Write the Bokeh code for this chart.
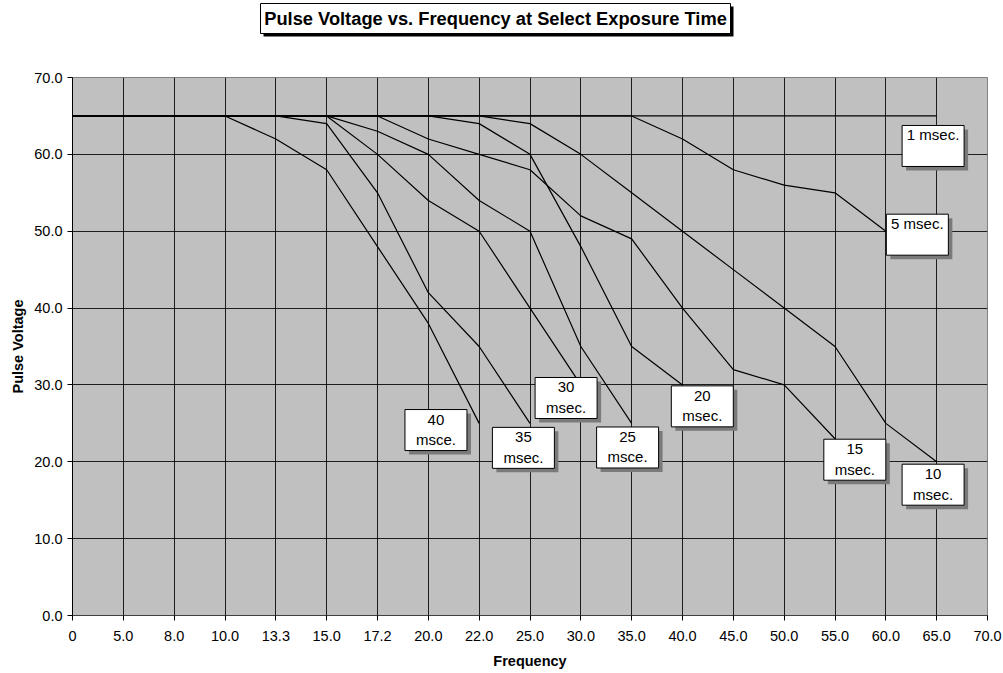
from bokeh.plotting import figure
from bokeh.layouts import column
from bokeh.models import FixedTicker, PrintfTickFormatter, ColumnDataSource, Range1d
from bokeh.core.properties import value
from bokeh.embed import file_html
from bokeh.resources import INLINE

# ---- data ----
categories = ["0", "5.0", "8.0", "10.0", "13.3", "15.0", "17.2", "20.0", "22.0", "25.0",
              "30.0", "35.0", "40.0", "45.0", "50.0", "55.0", "60.0", "65.0", "70.0"]
y_ticks = [0, 10, 20, 30, 40, 50, 60, 70]

ms1 = [65, 65, 65, 65, 65, 65, 65, 65, 65, 65, 65, 65, 65, 65, 65, 65, 65, 65]
ms5 = [65, 65, 65, 65, 65, 65, 65, 65, 65, 65, 65, 65, 62, 58, 56, 55, 50]
ms10 = [65, 65, 65, 65, 65, 65, 65, 65, 65, 64, 60, 55, 50, 45, 40, 35, 25, 20]
ms15 = [65, 65, 65, 65, 65, 65, 65, 62, 60, 58, 52, 49, 40, 32, 30, 23]
ms20 = [65, 65, 65, 65, 65, 65, 65, 65, 64, 60, 48, 35, 30]
ms25 = [65, 65, 65, 65, 65, 65, 63, 60, 54, 50, 35, 25]
ms30 = [65, 65, 65, 65, 65, 65, 60, 54, 50, 40, 30]
ms35 = [65, 65, 65, 65, 65, 64, 55, 42, 35, 25]
ms40 = [65, 65, 65, 65, 62, 58, 48, 38, 25]

series = [ms1, ms5, ms10, ms15, ms20, ms25, ms30, ms35, ms40]
series_labels = ["1 msec.", "5 msec.", "10\nmsec.", "15\nmsec.", "20\nmsec.",
                 "25\nmsce.", "30\nmsec.", "35\nmsec.", "40\nmsce."]

# label box centres (data coordinates)
label_x = [16.93, 16.62, 16.93, 15.39, 12.39, 10.92, 9.71, 8.87, 7.15]
label_y = [61.09, 49.55, 17.02, 20.27, 27.21, 21.86, 28.30, 21.81, 24.13]

FONT = value("Liberation Sans")
TITLE = "Pulse Voltage vs. Frequency at Select Exposure Time"

LEFT, RIGHT, TOP_STRIP = 72, 16, 60

# ---- title strip (pixel-like coordinates, y downward) ----
t = figure(width=1003, height=TOP_STRIP, output_backend="svg", toolbar_location=None,
           x_range=Range1d(LEFT, 1003 - RIGHT), y_range=Range1d(TOP_STRIP, 0),
           x_axis_type=None, y_axis_type=None,
           min_border_left=LEFT, min_border_right=RIGHT, min_border_top=0, min_border_bottom=0)
t.outline_line_color = None
t.background_fill_color = "white"
t.border_fill_color = "white"
t.grid.visible = False
t.rect(x=[498], y=[21], width=470, height=30, fill_color="black", line_color=None)
t.rect(x=[495], y=[18], width=470, height=30, fill_color="white", line_color="black",
       line_width=1)
t.text(x=[495], y=[18], text=[TITLE], text_align="center", text_baseline="middle",
       text_font=FONT, text_font_size="18.3px", text_font_style="bold", text_color="black")

# ---- main chart ----
p = figure(width=1003, height=673 - TOP_STRIP, output_backend="svg", toolbar_location=None,
           x_range=(0, len(categories) - 1), y_range=(0, 70),
           min_border_left=LEFT, min_border_right=RIGHT, min_border_top=77 - TOP_STRIP,
           min_border_bottom=58)
p.background_fill_color = "#C0C0C0"
p.border_fill_color = "white"
p.outline_line_color = "#808080"

# axes
p.xaxis.ticker = FixedTicker(ticks=list(range(len(categories))))
p.xaxis.major_label_overrides = {i: c for i, c in enumerate(categories)}
p.yaxis.ticker = FixedTicker(ticks=y_ticks)
p.yaxis.formatter = PrintfTickFormatter(format="%.1f")
for ax in (p.xaxis, p.yaxis):
    ax.major_tick_in = 0
    ax.major_tick_out = 5
    ax.minor_tick_line_color = None
    ax.major_tick_line_color = "black"
    ax.axis_line_color = "black"
    ax.major_label_text_font = "Liberation Sans"
    ax.major_label_text_font_size = "14.5px"
    ax.major_label_text_color = "black"
    ax.axis_label_text_font = "Liberation Sans"
    ax.axis_label_text_font_size = "14.5px"
    ax.axis_label_text_font_style = "bold"
    ax.axis_label_text_color = "black"
p.xaxis.major_label_standoff = 10
p.xaxis.axis_label_standoff = 9
p.yaxis.major_label_standoff = 5
p.yaxis.axis_label_standoff = 5
p.xaxis.axis_line_color = "#404040"
p.xaxis.axis_label = "Frequency"
p.yaxis.axis_label = "Pulse Voltage"

p.xgrid.ticker = FixedTicker(ticks=list(range(len(categories))))
p.ygrid.ticker = FixedTicker(ticks=y_ticks)
p.grid.grid_line_color = "black"
p.grid.grid_line_alpha = 0.85
p.grid.grid_line_width = 1

# lines
for vals in series:
    src = ColumnDataSource(dict(x=list(range(len(vals))), y=vals))
    p.line("x", "y", source=src, line_color="black", line_width=1.2)

# label boxes with shadows
dx = 4 * (len(categories) - 1) / 915.0
dy = -4 * 70 / 538.0
p.rect(x=[x + dx for x in label_x], y=[y + dy for y in label_y], width=62, height=41,
       width_units="screen", height_units="screen", fill_color="#7a7a7a", line_color=None)
p.rect(x=label_x, y=label_y, width=62, height=41, width_units="screen", height_units="screen",
       fill_color="white", line_color="black", line_width=1)
p.text(x=label_x, y=label_y, text=series_labels, text_align="center", text_baseline="top",
       y_offset=-19.5, text_font=FONT, text_font_size="15px", text_line_height=1.2,
       text_color="black")

layout = column(t, p, spacing=0)
open("out.html", "w").write(file_html(layout, INLINE))
